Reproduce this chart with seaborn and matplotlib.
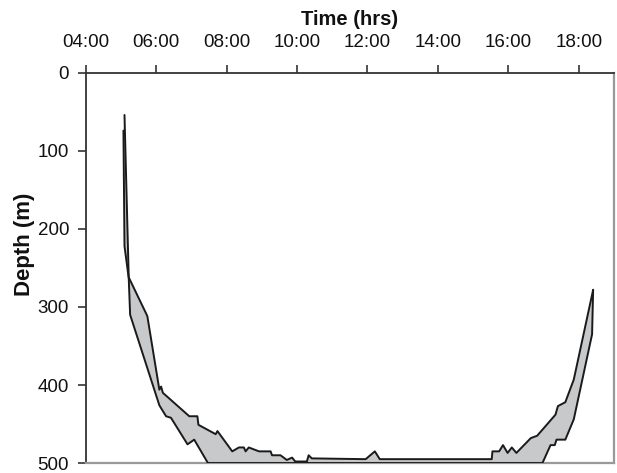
import numpy as np
import pandas as pd
import matplotlib
matplotlib.use("Agg")
import matplotlib.pyplot as plt
import seaborn as sns

# time in decimal hours, depth in metres
upper_time = [5.10, 5.22, 5.71, 5.75, 6.09, 6.14, 6.19, 6.94, 7.17, 7.20, 7.69, 7.74,
              8.16, 8.35, 8.49, 8.54, 8.63, 8.92, 9.25, 9.29, 9.53, 9.71, 9.86, 9.95,
              10.28, 10.33, 10.42, 11.95, 12.21, 12.35, 15.53, 15.55, 15.74, 15.85,
              15.98, 16.10, 16.23, 16.64, 16.82, 17.34, 17.41, 17.62, 17.86, 18.41]
upper_depth = [54, 262, 308, 312, 406, 402, 410, 440, 440, 451, 463, 459,
               485, 480, 480, 485, 480, 485, 485, 490, 490, 496, 493, 498,
               498, 490, 494, 495, 485, 495, 495, 485, 485, 477,
               487, 480, 487, 468, 465, 438, 427, 422, 393, 278]

lower_time = [5.07, 5.10, 5.22, 5.26, 6.09, 6.28, 6.42, 6.89, 7.08, 7.47,
              16.97, 17.20, 17.32, 17.37, 17.62, 17.86, 18.38, 18.41]
lower_depth = [74, 222, 263, 310, 426, 440, 442, 476, 470, 500,
               500, 477, 477, 470, 470, 444, 335, 278]

time_ticks = [4, 6, 8, 10, 12, 14, 16, 18]
time_labels = ["04:00", "06:00", "08:00", "10:00", "12:00", "14:00", "16:00", "18:00"]

upper = pd.DataFrame({"time": upper_time, "depth": upper_depth})
lower = pd.DataFrame({"time": lower_time, "depth": lower_depth})

sns.set_style("white")
plt.rcParams['font.family'] = ['Liberation Sans', 'DejaVu Sans']
plt.rcParams['text.color'] = '#111111'
plt.rcParams['axes.labelcolor'] = '#111111'
plt.rcParams['xtick.color'] = '#111111'
plt.rcParams['ytick.color'] = '#111111'

fig = plt.figure(figsize=(6.17, 4.73), dpi=100)
ax = fig.add_axes([0.139, 0.021, 0.856, 0.825])

# shaded layer between shallow and deep boundary
poly_x = np.concatenate([upper["time"].values, lower["time"].values[::-1]])
poly_y = np.concatenate([upper["depth"].values, lower["depth"].values[::-1]])
ax.fill(poly_x, poly_y, color="#c8c9cb", lw=0, zorder=1)

sns.lineplot(data=upper, x="time", y="depth", sort=False, estimator=None,
             color="#1a1a1a", lw=1.4, ax=ax, zorder=3)
sns.lineplot(data=lower, x="time", y="depth", sort=False, estimator=None,
             color="#1a1a1a", lw=1.4, ax=ax, zorder=3)

ax.set_xlim(4, 19)
ax.set_ylim(500, 0)

ax.xaxis.set_label_position("top")
ax.xaxis.tick_top()
ax.set_xticks(time_ticks)
ax.set_xticklabels(time_labels)
ax.set_yticks([0, 100, 200, 300, 400, 500])

ax.set_xlabel("Time (hrs)", fontsize=14.5, fontweight="bold", labelpad=6)
ax.set_ylabel("Depth (m)", fontsize=16, fontweight="bold", labelpad=4)
ax.yaxis.set_label_coords(-0.097, 0.56)

ax.tick_params(axis="x", which="both", top=True, bottom=False, direction="out",
               length=6, width=1.2, color="#333333", labelsize=13.5, pad=10)
ax.tick_params(axis="y", which="both", left=True, direction="out",
               length=6, width=1.2, color="#333333", labelsize=13.5, pad=6)

for side in ["top", "left"]:
    ax.spines[side].set_color("#333333")
    ax.spines[side].set_linewidth(1.3)
for side in ["right", "bottom"]:
    ax.spines[side].set_color("#999999")
    ax.spines[side].set_linewidth(1.6)

fig.savefig("out.png", dpi=100)
